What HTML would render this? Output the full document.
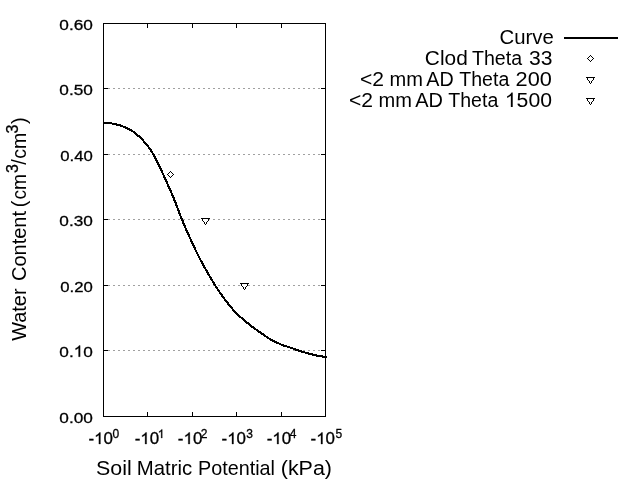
<!DOCTYPE html>
<html><head><meta charset="utf-8"><title>Water Retention Curve</title>
<style>html,body{margin:0;padding:0;background:#fff;}body{width:640px;height:480px;overflow:hidden;font-family:"Liberation Sans",sans-serif;}svg{display:block;}</style></head>
<body>
<svg width="640" height="480" viewBox="0 0 640 480" style="will-change:transform">
<rect width="640" height="480" fill="#fff"/>
<g stroke="#a0a0a0" stroke-width="1" stroke-dasharray="2 3" shape-rendering="crispEdges">
<line x1="103" y1="88.5" x2="326" y2="88.5"/>
<line x1="103" y1="154.5" x2="326" y2="154.5"/>
<line x1="103" y1="219.5" x2="326" y2="219.5"/>
<line x1="103" y1="285.5" x2="326" y2="285.5"/>
<line x1="103" y1="350.5" x2="326" y2="350.5"/>
</g>
<g stroke="#000" stroke-width="1" fill="none" shape-rendering="crispEdges">
<rect x="103.5" y="23.5" width="222" height="393"/>
<line x1="103" y1="88.5" x2="108" y2="88.5"/>
<line x1="321" y1="88.5" x2="326" y2="88.5"/>
<line x1="103" y1="154.5" x2="108" y2="154.5"/>
<line x1="321" y1="154.5" x2="326" y2="154.5"/>
<line x1="103" y1="219.5" x2="108" y2="219.5"/>
<line x1="321" y1="219.5" x2="326" y2="219.5"/>
<line x1="103" y1="285.5" x2="108" y2="285.5"/>
<line x1="321" y1="285.5" x2="326" y2="285.5"/>
<line x1="103" y1="350.5" x2="108" y2="350.5"/>
<line x1="321" y1="350.5" x2="326" y2="350.5"/>
<line x1="147.5" y1="23" x2="147.5" y2="28"/>
<line x1="147.5" y1="412" x2="147.5" y2="417"/>
<line x1="192.5" y1="23" x2="192.5" y2="28"/>
<line x1="192.5" y1="412" x2="192.5" y2="417"/>
<line x1="236.5" y1="23" x2="236.5" y2="28"/>
<line x1="236.5" y1="412" x2="236.5" y2="417"/>
<line x1="281.5" y1="23" x2="281.5" y2="28"/>
<line x1="281.5" y1="412" x2="281.5" y2="417"/>
</g>
<polyline points="103.5,122.8 105.5,122.9 107.5,123.0 109.5,123.1 111.5,123.4 113.5,123.8 115.5,124.3 117.5,124.7 119.5,125.3 121.5,125.9 123.5,126.7 125.5,127.6 127.5,128.5 129.5,129.5 131.5,130.6 133.5,131.9 135.5,133.4 137.5,135.1 139.5,136.9 141.5,138.9 143.5,141.0 145.5,143.2 147.5,145.6 149.5,148.3 151.5,151.3 153.5,154.7 155.5,158.3 157.5,162.3 159.5,166.5 161.5,170.8 163.5,175.1 165.5,179.5 167.5,184.0 169.5,188.4 171.5,193.0 173.5,197.7 175.5,202.8 177.5,208.1 179.5,213.3 181.5,218.3 183.5,223.2 185.5,227.9 187.5,232.5 189.5,236.9 191.5,241.2 193.5,245.5 195.5,249.9 197.5,254.1 199.5,258.1 201.5,261.8 203.5,265.4 205.5,269.0 207.5,272.6 209.5,276.1 211.5,279.4 213.5,282.7 215.5,285.9 217.5,289.0 219.5,291.9 221.5,294.8 223.5,297.6 225.5,300.3 227.5,302.9 229.5,305.4 231.5,307.8 233.5,310.1 235.5,312.3 237.5,314.3 239.5,316.2 241.5,317.9 243.5,319.6 245.5,321.3 247.5,323.0 249.5,324.7 251.5,326.2 253.5,327.7 255.5,329.1 257.5,330.6 259.5,332.0 261.5,333.4 263.5,334.7 265.5,336.1 267.5,337.5 269.5,338.8 271.5,339.9 273.5,341.0 275.5,341.9 277.5,342.9 279.5,343.8 281.5,344.7 283.5,345.5 285.5,346.1 287.5,346.7 289.5,347.3 291.5,348.0 293.5,348.7 295.5,349.5 297.5,350.2 299.5,350.8 301.5,351.5 303.5,352.1 305.5,352.6 307.5,353.2 309.5,353.7 311.5,354.2 313.5,354.8 315.5,355.3 317.5,355.8 319.5,356.2 321.5,356.4 323.5,356.7 325.5,357.0 326.8,357.2" fill="none" stroke="#000" stroke-width="2.1" stroke-linejoin="round" shape-rendering="crispEdges"/>
<rect x="564" y="37" width="54" height="2" fill="#000" shape-rendering="crispEdges"/>
<path d="M167 174h1v1h-1zM168 173h1v1h-1zM168 175h1v1h-1zM169 172h1v1h-1zM169 176h1v1h-1zM170 171h1v1h-1zM170 177h1v1h-1zM171 172h1v1h-1zM171 176h1v1h-1zM172 173h1v1h-1zM172 175h1v1h-1zM173 174h1v1h-1z" fill="#000" shape-rendering="crispEdges"/>
<path d="M203 219h1v1h-1zM204 219h1v1h-1zM205 219h1v1h-1zM206 219h1v1h-1zM207 219h1v1h-1zM203 220h1v1h-1zM204 220h1v1h-1zM205 220h1v1h-1zM206 220h1v1h-1zM207 220h1v1h-1zM204 221h1v1h-1zM205 221h1v1h-1zM206 221h1v1h-1zM205 222h1v1h-1zM205 223h1v1h-1z" fill="#fff" shape-rendering="crispEdges"/><path d="M201 218h1v1h-1zM202 218h1v1h-1zM203 218h1v1h-1zM204 218h1v1h-1zM205 218h1v1h-1zM206 218h1v1h-1zM207 218h1v1h-1zM208 218h1v1h-1zM209 218h1v1h-1zM202 219h1v1h-1zM208 219h1v1h-1zM202 220h1v1h-1zM208 220h1v1h-1zM203 221h1v1h-1zM207 221h1v1h-1zM204 222h1v1h-1zM206 222h1v1h-1zM204 223h1v1h-1zM206 223h1v1h-1zM205 224h1v1h-1z" fill="#000" shape-rendering="crispEdges"/>
<path d="M242 284h1v1h-1zM243 284h1v1h-1zM244 284h1v1h-1zM245 284h1v1h-1zM246 284h1v1h-1zM242 285h1v1h-1zM243 285h1v1h-1zM244 285h1v1h-1zM245 285h1v1h-1zM246 285h1v1h-1zM243 286h1v1h-1zM244 286h1v1h-1zM245 286h1v1h-1zM244 287h1v1h-1zM244 288h1v1h-1z" fill="#fff" shape-rendering="crispEdges"/><path d="M240 283h1v1h-1zM241 283h1v1h-1zM242 283h1v1h-1zM243 283h1v1h-1zM244 283h1v1h-1zM245 283h1v1h-1zM246 283h1v1h-1zM247 283h1v1h-1zM248 283h1v1h-1zM241 284h1v1h-1zM247 284h1v1h-1zM241 285h1v1h-1zM247 285h1v1h-1zM242 286h1v1h-1zM246 286h1v1h-1zM243 287h1v1h-1zM245 287h1v1h-1zM243 288h1v1h-1zM245 288h1v1h-1zM244 289h1v1h-1z" fill="#000" shape-rendering="crispEdges"/>
<path d="M587 58h1v1h-1zM588 57h1v1h-1zM588 59h1v1h-1zM589 56h1v1h-1zM589 60h1v1h-1zM590 55h1v1h-1zM590 61h1v1h-1zM591 56h1v1h-1zM591 60h1v1h-1zM592 57h1v1h-1zM592 59h1v1h-1zM593 58h1v1h-1z" fill="#000" shape-rendering="crispEdges"/>
<path d="M588 78h1v1h-1zM589 78h1v1h-1zM590 78h1v1h-1zM591 78h1v1h-1zM592 78h1v1h-1zM588 79h1v1h-1zM589 79h1v1h-1zM590 79h1v1h-1zM591 79h1v1h-1zM592 79h1v1h-1zM589 80h1v1h-1zM590 80h1v1h-1zM591 80h1v1h-1zM590 81h1v1h-1zM590 82h1v1h-1z" fill="#fff" shape-rendering="crispEdges"/><path d="M586 77h1v1h-1zM587 77h1v1h-1zM588 77h1v1h-1zM589 77h1v1h-1zM590 77h1v1h-1zM591 77h1v1h-1zM592 77h1v1h-1zM593 77h1v1h-1zM594 77h1v1h-1zM587 78h1v1h-1zM593 78h1v1h-1zM587 79h1v1h-1zM593 79h1v1h-1zM588 80h1v1h-1zM592 80h1v1h-1zM589 81h1v1h-1zM591 81h1v1h-1zM589 82h1v1h-1zM591 82h1v1h-1zM590 83h1v1h-1z" fill="#000" shape-rendering="crispEdges"/>
<path d="M588 99h1v1h-1zM589 99h1v1h-1zM590 99h1v1h-1zM591 99h1v1h-1zM592 99h1v1h-1zM588 100h1v1h-1zM589 100h1v1h-1zM590 100h1v1h-1zM591 100h1v1h-1zM592 100h1v1h-1zM589 101h1v1h-1zM590 101h1v1h-1zM591 101h1v1h-1zM590 102h1v1h-1zM590 103h1v1h-1z" fill="#fff" shape-rendering="crispEdges"/><path d="M586 98h1v1h-1zM587 98h1v1h-1zM588 98h1v1h-1zM589 98h1v1h-1zM590 98h1v1h-1zM591 98h1v1h-1zM592 98h1v1h-1zM593 98h1v1h-1zM594 98h1v1h-1zM587 99h1v1h-1zM593 99h1v1h-1zM587 100h1v1h-1zM593 100h1v1h-1zM588 101h1v1h-1zM592 101h1v1h-1zM589 102h1v1h-1zM591 102h1v1h-1zM589 103h1v1h-1zM591 103h1v1h-1zM590 104h1v1h-1z" fill="#000" shape-rendering="crispEdges"/>
<g transform="translate(499.58,44) scale(1.0175,1)"><text font-family="Liberation Sans, sans-serif" font-size="20" fill="#000">Curve</text></g>
<g transform="translate(424.86,65) scale(1.0426,1)"><text font-family="Liberation Sans, sans-serif" font-size="20" fill="#000">Clod</text></g>
<g transform="translate(472.01,65) scale(0.9793,1)"><text font-family="Liberation Sans, sans-serif" font-size="20" fill="#000">Theta</text></g>
<g transform="translate(529.01,65) scale(1.0554,1)"><text font-family="Liberation Sans, sans-serif" font-size="20" fill="#000">33</text></g>
<g transform="translate(359.94,86) scale(1.0554,1)"><text font-family="Liberation Sans, sans-serif" font-size="20" fill="#000">&lt;2</text></g>
<g transform="translate(389.50,86) scale(1.0033,1)"><text font-family="Liberation Sans, sans-serif" font-size="20" fill="#000">mm</text></g>
<g transform="translate(426.30,86) scale(0.9869,1)"><text font-family="Liberation Sans, sans-serif" font-size="20" fill="#000">AD</text></g>
<g transform="translate(459.31,86) scale(0.9773,1)"><text font-family="Liberation Sans, sans-serif" font-size="20" fill="#000">Theta</text></g>
<g transform="translate(515.61,86) scale(1.0866,1)"><text font-family="Liberation Sans, sans-serif" font-size="20" fill="#000">200</text></g>
<g transform="translate(348.94,107) scale(1.0554,1)"><text font-family="Liberation Sans, sans-serif" font-size="20" fill="#000">&lt;2</text></g>
<g transform="translate(378.50,107) scale(1.0033,1)"><text font-family="Liberation Sans, sans-serif" font-size="20" fill="#000">mm</text></g>
<g transform="translate(415.30,107) scale(0.9981,1)"><text font-family="Liberation Sans, sans-serif" font-size="20" fill="#000">AD</text></g>
<g transform="translate(448.31,107) scale(0.9773,1)"><text font-family="Liberation Sans, sans-serif" font-size="20" fill="#000">Theta</text></g>
<g transform="translate(504.81,107) scale(1.0602,1)"><path d="M763 0L583 0L583 1147Q518 1085 412.5 1023Q307 961 223 930L223 1104Q374 1175 487 1276Q600 1377 647 1472L763 1472Z" transform="translate(0.00,0) scale(0.009766,-0.009766)" fill="#000"/><text font-family="Liberation Sans, sans-serif" font-size="20" fill="#000" x="11.12" y="0">5</text><text font-family="Liberation Sans, sans-serif" font-size="20" fill="#000" x="22.24" y="0">0</text><text font-family="Liberation Sans, sans-serif" font-size="20" fill="#000" x="33.36" y="0">0</text></g>
<g transform="translate(96.03,475) scale(1.0710,1)"><text font-family="Liberation Sans, sans-serif" font-size="20" fill="#000">Soil</text></g>
<g transform="translate(136.87,475) scale(1.0171,1)"><text font-family="Liberation Sans, sans-serif" font-size="20" fill="#000">Matric</text></g>
<g transform="translate(198.02,475) scale(0.9893,1)"><text font-family="Liberation Sans, sans-serif" font-size="20" fill="#000">Potential</text></g>
<g transform="translate(280.76,475) scale(1.0718,1)"><text font-family="Liberation Sans, sans-serif" font-size="20" fill="#000">(kPa)</text></g>
<g transform="translate(88.47,444) scale(1.0562,1)"><text font-family="Liberation Sans, sans-serif" font-size="16" fill="#000" stroke="#000" stroke-width="0.3" x="0.00" y="0">-</text><path d="M763 0L583 0L583 1147Q518 1085 412.5 1023Q307 961 223 930L223 1104Q374 1175 487 1276Q600 1377 647 1472L763 1472Z" transform="translate(5.33,0) scale(0.007812,-0.007812)" fill="#000" stroke="#000" stroke-width="38.4"/><text font-family="Liberation Sans, sans-serif" font-size="16" fill="#000" stroke="#000" stroke-width="0.3" x="14.22" y="0">0</text></g>
<g transform="translate(112.50,438) scale(1.0000,1)"><text font-family="Liberation Sans, sans-serif" font-size="12" fill="#000" stroke="#000" stroke-width="0.3">0</text></g>
<g transform="translate(134.67,444) scale(1.0562,1)"><text font-family="Liberation Sans, sans-serif" font-size="16" fill="#000" stroke="#000" stroke-width="0.3" x="0.00" y="0">-</text><path d="M763 0L583 0L583 1147Q518 1085 412.5 1023Q307 961 223 930L223 1104Q374 1175 487 1276Q600 1377 647 1472L763 1472Z" transform="translate(5.33,0) scale(0.007812,-0.007812)" fill="#000" stroke="#000" stroke-width="38.4"/><text font-family="Liberation Sans, sans-serif" font-size="16" fill="#000" stroke="#000" stroke-width="0.3" x="14.22" y="0">0</text></g>
<g transform="translate(157.75,438) scale(1.0000,1)"><path d="M763 0L583 0L583 1147Q518 1085 412.5 1023Q307 961 223 930L223 1104Q374 1175 487 1276Q600 1377 647 1472L763 1472Z" transform="translate(0.00,0) scale(0.005859,-0.005859)" fill="#000" stroke="#000" stroke-width="51.2"/></g>
<g transform="translate(177.87,444) scale(1.0562,1)"><text font-family="Liberation Sans, sans-serif" font-size="16" fill="#000" stroke="#000" stroke-width="0.3" x="0.00" y="0">-</text><path d="M763 0L583 0L583 1147Q518 1085 412.5 1023Q307 961 223 930L223 1104Q374 1175 487 1276Q600 1377 647 1472L763 1472Z" transform="translate(5.33,0) scale(0.007812,-0.007812)" fill="#000" stroke="#000" stroke-width="38.4"/><text font-family="Liberation Sans, sans-serif" font-size="16" fill="#000" stroke="#000" stroke-width="0.3" x="14.22" y="0">0</text></g>
<g transform="translate(200.75,438) scale(1.0000,1)"><text font-family="Liberation Sans, sans-serif" font-size="12" fill="#000" stroke="#000" stroke-width="0.3">2</text></g>
<g transform="translate(221.57,444) scale(1.0562,1)"><text font-family="Liberation Sans, sans-serif" font-size="16" fill="#000" stroke="#000" stroke-width="0.3" x="0.00" y="0">-</text><path d="M763 0L583 0L583 1147Q518 1085 412.5 1023Q307 961 223 930L223 1104Q374 1175 487 1276Q600 1377 647 1472L763 1472Z" transform="translate(5.33,0) scale(0.007812,-0.007812)" fill="#000" stroke="#000" stroke-width="38.4"/><text font-family="Liberation Sans, sans-serif" font-size="16" fill="#000" stroke="#000" stroke-width="0.3" x="14.22" y="0">0</text></g>
<g transform="translate(246.35,438) scale(1.0000,1)"><text font-family="Liberation Sans, sans-serif" font-size="12" fill="#000" stroke="#000" stroke-width="0.3">3</text></g>
<g transform="translate(266.67,444) scale(1.0562,1)"><text font-family="Liberation Sans, sans-serif" font-size="16" fill="#000" stroke="#000" stroke-width="0.3" x="0.00" y="0">-</text><path d="M763 0L583 0L583 1147Q518 1085 412.5 1023Q307 961 223 930L223 1104Q374 1175 487 1276Q600 1377 647 1472L763 1472Z" transform="translate(5.33,0) scale(0.007812,-0.007812)" fill="#000" stroke="#000" stroke-width="38.4"/><text font-family="Liberation Sans, sans-serif" font-size="16" fill="#000" stroke="#000" stroke-width="0.3" x="14.22" y="0">0</text></g>
<g transform="translate(289.75,438) scale(1.0000,1)"><text font-family="Liberation Sans, sans-serif" font-size="12" fill="#000" stroke="#000" stroke-width="0.3">4</text></g>
<g transform="translate(310.57,444) scale(1.0562,1)"><text font-family="Liberation Sans, sans-serif" font-size="16" fill="#000" stroke="#000" stroke-width="0.3" x="0.00" y="0">-</text><path d="M763 0L583 0L583 1147Q518 1085 412.5 1023Q307 961 223 930L223 1104Q374 1175 487 1276Q600 1377 647 1472L763 1472Z" transform="translate(5.33,0) scale(0.007812,-0.007812)" fill="#000" stroke="#000" stroke-width="38.4"/><text font-family="Liberation Sans, sans-serif" font-size="16" fill="#000" stroke="#000" stroke-width="0.3" x="14.22" y="0">0</text></g>
<g transform="translate(335.50,438) scale(1.0000,1)"><text font-family="Liberation Sans, sans-serif" font-size="12" fill="#000" stroke="#000" stroke-width="0.3">5</text></g>
<g transform="translate(59.34,29.7) scale(1.1111,1)"><text font-family="Liberation Sans, sans-serif" font-size="15.5" fill="#000" stroke="#000" stroke-width="0.3">0.60</text></g>
<g transform="translate(59.34,94.7) scale(1.1111,1)"><text font-family="Liberation Sans, sans-serif" font-size="15.5" fill="#000" stroke="#000" stroke-width="0.3">0.50</text></g>
<g transform="translate(60.26,160.7) scale(1.0803,1)"><text font-family="Liberation Sans, sans-serif" font-size="15.5" fill="#000" stroke="#000" stroke-width="0.3">0.40</text></g>
<g transform="translate(59.34,225.7) scale(1.1111,1)"><text font-family="Liberation Sans, sans-serif" font-size="15.5" fill="#000" stroke="#000" stroke-width="0.3">0.30</text></g>
<g transform="translate(60.26,291.7) scale(1.0803,1)"><text font-family="Liberation Sans, sans-serif" font-size="15.5" fill="#000" stroke="#000" stroke-width="0.3">0.20</text></g>
<g transform="translate(59.34,356.7) scale(1.1111,1)"><text font-family="Liberation Sans, sans-serif" font-size="15.5" fill="#000" stroke="#000" stroke-width="0.3" x="0.00" y="0">0</text><text font-family="Liberation Sans, sans-serif" font-size="15.5" fill="#000" stroke="#000" stroke-width="0.3" x="8.62" y="0">.</text><path d="M763 0L583 0L583 1147Q518 1085 412.5 1023Q307 961 223 930L223 1104Q374 1175 487 1276Q600 1377 647 1472L763 1472Z" transform="translate(12.93,0) scale(0.007568,-0.007568)" fill="#000" stroke="#000" stroke-width="39.6"/><text font-family="Liberation Sans, sans-serif" font-size="15.5" fill="#000" stroke="#000" stroke-width="0.3" x="21.55" y="0">0</text></g>
<g transform="translate(59.34,422.7) scale(1.1111,1)"><text font-family="Liberation Sans, sans-serif" font-size="15.5" fill="#000" stroke="#000" stroke-width="0.3">0.00</text></g>
<g transform="translate(26,0) rotate(-90) translate(-340.75,0) scale(0.9952,1)"><text font-family="Liberation Sans, sans-serif" font-size="20" fill="#000">Water</text></g>
<g transform="translate(26,0) rotate(-90) translate(-281.00,0) scale(1.0000,1)"><text font-family="Liberation Sans, sans-serif" font-size="20" fill="#000">Content</text></g>
<g transform="translate(26,0) rotate(-90) translate(-207.35,0) scale(1.0000,1)"><text font-family="Liberation Sans, sans-serif" font-size="20" fill="#000">(</text></g>
<g transform="translate(26,0) rotate(-90) translate(-199.47,0) scale(0.9596,1)"><text font-family="Liberation Sans, sans-serif" font-size="20" fill="#000">cm</text></g>
<g transform="translate(26,0) rotate(-90) translate(-173.12,-8) scale(1.0000,1)"><text font-family="Liberation Sans, sans-serif" font-size="16" fill="#000" stroke="#000" stroke-width="0.3">3</text></g>
<g transform="translate(26,0) rotate(-90) translate(-164.75,0) scale(1.0000,1)"><text font-family="Liberation Sans, sans-serif" font-size="20" fill="#000">/</text></g>
<g transform="translate(26,0) rotate(-90) translate(-158.63,0) scale(0.9758,1)"><text font-family="Liberation Sans, sans-serif" font-size="20" fill="#000">cm</text></g>
<g transform="translate(26,0) rotate(-90) translate(-133.38,-8) scale(1.0000,1)"><text font-family="Liberation Sans, sans-serif" font-size="16" fill="#000" stroke="#000" stroke-width="0.3">3</text></g>
<g transform="translate(26,0) rotate(-90) translate(-124.12,0) scale(1.0000,1)"><text font-family="Liberation Sans, sans-serif" font-size="20" fill="#000">)</text></g>
</svg>
</body></html>
